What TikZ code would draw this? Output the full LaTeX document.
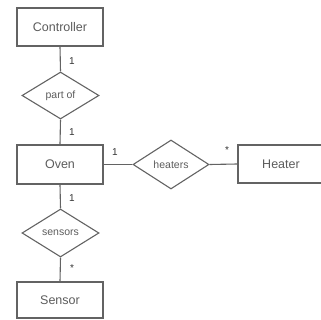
\documentclass[tikz,border=0pt]{standalone}
\usepackage{fontspec}
\setmainfont{Liberation Sans}
\usetikzlibrary{shapes.geometric}
\definecolor{ink}{HTML}{636363}
\definecolor{txt}{HTML}{5C5C5C}
\begin{document}
\begin{tikzpicture}[x=1pt,y=-1pt,
  entity/.style={draw=ink, line width=1.1pt, rectangle, minimum width=86pt,
    minimum height=38pt, inner sep=0pt, text=txt,
    font=\fontsize{12.5pt}{14pt}\selectfont},
  relation/.style={draw=ink, line width=1.1pt, diamond, minimum width=77pt,
    minimum height=48pt, inner sep=0pt, text=txt,
    font=\fontsize{10.5pt}{12pt}\selectfont},
  mult/.style={inner sep=0pt, text=black!80,
    font=\fontsize{10pt}{12pt}\selectfont},
  link/.style={draw=ink, line width=1.1pt}]
\useasboundingbox (0,0) rectangle (321,320);
\begin{scope}
\clip (0,0) rectangle (321,320);
% entities
\node[entity] (controller) at (60,27) {Controller};
\node[entity, minimum height=39pt] (oven) at (60,164.5) {Oven};
\node[entity] (heater) at (281,164) {Heater};
\node[entity, minimum height=36pt] (sensor) at (60,300) {Sensor};
% relationships
\node[relation, minimum height=47pt] (partof) at (60.5,95.5) {part of};
\node[relation, minimum width=76pt, minimum height=49pt] (heaters) at (171,164.5) {heaters};
\node[relation] (sensors) at (60.5,233) {sensors};
% connectors
\draw[link] (controller.south) -- (partof.north);
\draw[link] (partof.south) -- (oven.north);
\draw[link] (oven.east) -- (heaters.west);
\draw[link] (heaters.east) -- (heater.west);
\draw[link] (oven.south) -- (sensors.north);
\draw[link] (sensors.south) -- (sensor.north);
% multiplicities
\node[mult] (m1) at (72,61) {1};
\node[mult] (m2) at (72,132) {1};
\node[mult] (m3) at (115,152) {1};
\node[mult] (m4) at (227,150) {*};
\node[mult] (m5) at (72,198) {1};
\node[mult] (m6) at (72,268) {*};
\end{scope}
\end{tikzpicture}
\end{document}
